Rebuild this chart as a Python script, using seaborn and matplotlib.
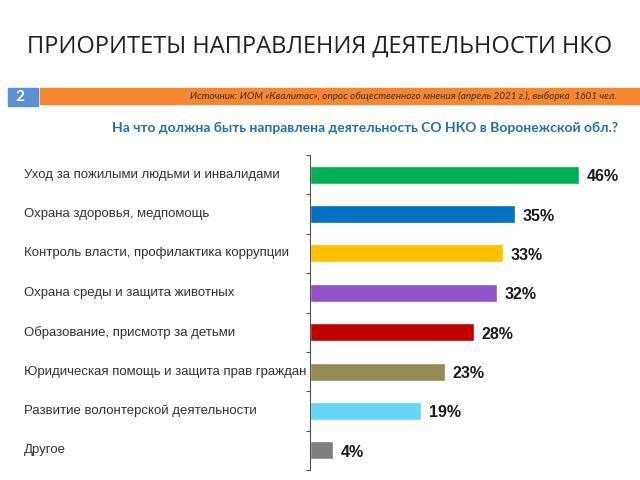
import matplotlib
matplotlib.use('Agg')
import matplotlib.pyplot as plt
import matplotlib.transforms as mtransforms
from matplotlib import font_manager
import numpy as np
import pandas as pd
import seaborn as sns

## Data
categories = ['Уход за пожилыми людьми и инвалидами',
              'Охрана здоровья, медпомощь',
              'Контроль власти, профилактика коррупции',
              'Охрана среды и защита животных',
              'Образование, присмотр за детьми',
              'Юридическая помощь и защита прав граждан',
              'Развитие волонтерской деятельности',
              'Другое']
values = [46, 35, 33, 32, 28, 23, 19, 4]
colors = ['#00B050', '#0070C0', '#FFC000', '#9254C8',
          '#C00000', '#948A54', '#66D6F7', '#7F7F7F']

title = 'ПРИОРИТЕТЫ НАПРАВЛЕНИЯ ДЕЯТЕЛЬНОСТИ НКО'
subtitle = 'На что должна быть направлена деятельность СО НКО в Воронежской обл.?'
source = 'Источник: ИОМ «Квалитас», опрос общественного мнения (апрель 2021 г.), выборка  1601 чел.'

df = pd.DataFrame({'cat': categories, 'val': values})

sns.set_style('white')
plt.rcParams['font.family'] = ['Liberation Sans', 'DejaVu Sans']

# narrow font for labels if there is one
try:
    font_manager.findfont('Liberation Sans Narrow', fallback_to_default=False)
    lab_font, lab_size, val_size = 'Liberation Sans Narrow', 11.3, 13
except ValueError:
    lab_font, lab_size, val_size = 'Liberation Sans', 9.5, 11.5

fig = plt.figure(figsize=(6.4, 4.8), dpi=100)

## Header
fig.text(0.5, 1 - 47 / 480, title, ha='center', va='center', fontsize=17,
         family=['Open Sans', 'DejaVu Sans'], color='#222222')
fig.patches.append(plt.Rectangle((40 / 640, 1 - 104 / 480), 600 / 640, 16 / 480,
                                 transform=fig.transFigure, color='#F58733', zorder=0))
fig.patches.append(plt.Rectangle((8 / 640, 1 - 106 / 480), 30 / 640, 18 / 480,
                                 transform=fig.transFigure, color='#5B8FCF', zorder=0))
fig.text(20 / 640, 1 - 97 / 480, '2', ha='center', va='center', fontsize=11,
         color='white', fontweight='bold', family=['Lato', 'DejaVu Sans'])
fig.text(617 / 640, 1 - 96 / 480, source, ha='right', va='center', fontsize=7.2,
         style='italic', color='#333333', family=['Lato', 'DejaVu Sans'])
fig.text(365 / 640, 1 - 128 / 480, subtitle, ha='center', va='center', fontsize=10,
         fontweight='bold', color='#1F6FB2', family=['Lato', 'DejaVu Sans'])

## Chart
ax = fig.add_axes([310 / 640, 10 / 480, 310 / 640, 315 / 480])
sns.barplot(data=df, x='val', y='cat', hue='cat', palette=colors, legend=False,
            orient='h', width=0.46, ax=ax, saturation=1)
ax.set_xlim(0, 310 / 5.85)
ax.set_ylim(len(categories) - 0.5, -0.5)
ax.set_xlabel('')
ax.set_ylabel('')
ax.set_xticks([])
ax.set_yticks(np.arange(len(categories) + 1) - 0.5)
ax.set_yticklabels([])
ax.tick_params(axis='y', left=True, length=3, width=0.8, color='#555555')
for s in ['top', 'right', 'bottom']:
    ax.spines[s].set_visible(False)
ax.spines['left'].set_color('#555555')
ax.spines['left'].set_linewidth(0.8)

trans = mtransforms.blended_transform_factory(fig.transFigure, ax.transData)
for i, (c, v) in enumerate(zip(categories, values)):
    ax.text(24 / 640, i, c, transform=trans, ha='left', va='center',
            fontsize=lab_size, color='#333333', family=[lab_font, 'DejaVu Sans'])
    ax.text(v + 1.3, i + 0.05, f'{v}%', ha='left', va='center', fontsize=val_size,
            fontweight='bold', color='#1a1a1a', family=[lab_font, 'DejaVu Sans'])

fig.savefig('out.png', dpi=100)
